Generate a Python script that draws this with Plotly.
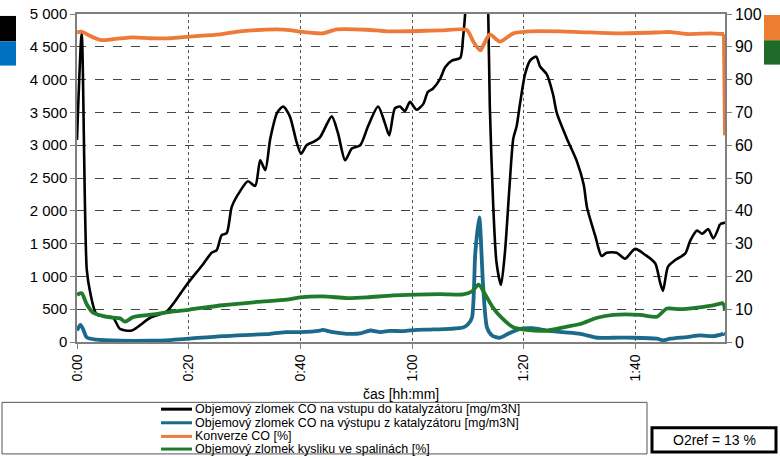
import plotly.graph_objects as go

# ---- data (time in minutes from start) ----
t_in = [0, 0.84, 1.74, 2.33, 3.53, 6.45, 7.7, 9.8, 13.1, 16.1, 19.6, 22.6, 24.1, 25.0, 25.9, 26.8, 27.7,
        29.2, 30.6, 31.9, 32.8, 33.7, 34.6, 35.8, 36.9, 38.1, 39.3, 40.1, 41.1, 42.3, 43.5, 45.6, 46.7,
        48.0, 49.2, 50.7, 52.1, 53.9, 55.1, 55.9, 56.9, 57.8, 58.7, 59.6, 60.8, 62.0, 62.8, 63.7, 65.0,
        65.9, 67.1, 68.6, 69.1, 69.7, 70.4, 72.9, 73.6, 73.9, 74.5, 75.1, 75.9, 76.6, 77.4, 78.1, 78.7,
        79.3, 80.2, 81.1, 82.2, 82.9, 84.1, 85.2, 85.9, 87.7, 89.5, 90.7, 91.3, 92.8, 93.9, 94.8, 96.6,
        98.1, 99.9, 101.7, 103.5, 104.4, 104.9, 105.8, 107.1, 108.9, 109.8, 111.0, 111.9, 113.0, 113.9,
        115.1, 116.0]
co_in = [3080, 4700, 1110, 770, 420, 370, 200, 175, 370, 470, 870, 1190, 1360, 1400, 1630, 1660, 2060,
         2300, 2450, 2380, 2770, 2620, 3100, 3490, 3590, 3440, 3050, 2870, 3000, 3050, 3120, 3440, 3190,
         2770, 2950, 3000, 3290, 3590, 3340, 3150, 3560, 3590, 3520, 3660, 3540, 3630, 3810, 3860, 4010,
         4190, 4290, 4330, 4630, 5300, 7000, 7000, 5100, 3590, 2100, 1210, 870, 1360, 2340, 3100, 3290,
         3630, 4080, 4290, 4350, 4200, 4080, 3780, 3490, 3100, 2750, 2400, 2050, 1610, 1310, 1360, 1360,
         1270, 1420, 1330, 1200, 900, 780, 1150, 1250, 1350, 1550, 1700, 1650, 1720, 1580,
         1800, 1820]

t_out = [0, 0.6, 1.07, 1.74, 3.53, 7.7, 13.1, 16.7, 19.9, 26.1, 34.6, 37.5, 39.9, 43.5, 44.0, 45.8,
         48.3, 50.7, 52.5, 54.3, 56.0, 58.4, 60.8, 63.2, 66.8, 69.1, 70.0, 70.7, 71.3, 72.0, 72.7, 73.4,
         74.3, 75.7, 77.2, 79.3, 81.6, 84.1, 87.0, 90.1, 93.1, 96.0, 99.6, 103.8, 104.9, 106.2, 109.2,
         111.6, 113.9, 115.7, 116.0]
co_out = [175, 260, 200, 70, 35, 20, 20, 30, 50, 90, 125, 150, 150, 175, 185, 150,
          125, 130, 175, 150, 170, 165, 185, 190, 200, 220, 270, 370, 1360, 1900, 860, 220,
          100, 65, 125, 200, 210, 175, 150, 125, 65, 65, 65, 50, 25, 50, 75,
          100, 90, 125, 115]

t_conv = [0, 0.84, 2.0, 4.1, 6.45, 10.0, 13.1, 16.7, 20.2, 25.6, 29.2, 35.8, 38.1, 39.9, 44.0, 46.5,
          51.9, 55.5, 65.0, 69.8, 70.9, 72.2, 73.1, 73.9, 75.7, 78.1, 81.1, 86.5, 90.1, 97.2, 104.4,
          106.2, 109.2, 113.3, 115.8, 116.0]
conv = [94.4, 94.6, 93.6, 92.1, 92.3, 92.9, 92.6, 92.6, 93.1, 93.8, 94.7, 95.3, 95.1, 94.6, 94.1, 95.3,
        95.2, 94.7, 95.0, 95.1, 91.7, 88.9, 91.7, 93.8, 91.6, 94.1, 94.7, 94.7, 94.5, 94.1, 94.4,
        94.5, 93.9, 94.1, 93.9, 63.0]

t_o2 = [0, 0.84, 1.74, 2.9, 4.7, 6.5, 7.7, 8.6, 10.1, 13.6, 16.7, 20.2, 26.1, 32.2, 37.5, 39.9, 44.0,
        48.3, 51.9, 56.6, 65.0, 69.1, 70.7, 71.9, 73.1, 74.5, 76.0, 78.1, 80.5, 84.1, 87.7, 90.1, 93.1,
        96.0, 100.8, 103.8, 105.6, 108.0, 111.0, 113.9, 115.8, 116.0]
o2 = [14.4, 14.9, 11.5, 8.9, 7.9, 7.4, 7.2, 6.2, 7.6, 8.4, 9.2, 9.9, 11.2, 12.2, 12.9, 13.6, 13.9,
      13.4, 13.6, 14.2, 14.6, 14.5, 15.4, 17.5, 14.4, 10.4, 7.4, 4.5, 3.7, 3.5, 4.7, 5.5, 7.4,
      8.3, 8.3, 7.7, 10.2, 10.0, 10.5, 11.2, 11.9, 9.5]

x_tickvals = [0, 20, 40, 60, 80, 100]
x_ticktext = ["0:00", "0:20", "0:40", "1:00", "1:20", "1:40"]

names = ["Objemový zlomek CO na vstupu do katalyzátoru [mg/m3N]",
         "Objemový zlomek CO na výstupu z katalyzátoru [mg/m3N]",
         "Konverze CO [%]",
         "Objemový zlomek kysliku ve spalinách [%]"]
colors = ["#000000", "#1B6A8C", "#EE7A3A", "#1F7A2C"]

W, H = 780, 458
ML, MR, MT, MB = 77, 55, 5, 116
PW, PH = W - ML - MR, H - MT - MB


def px(x):
    return (x - ML) / PW


def py(y):
    return (H - MB - y) / PH


SM = 0.7
fig = go.Figure()


def add_series(t, v, color, width, axis, name):
    # smoothed body, with the final (near-vertical) step drawn straight
    fig.add_trace(go.Scatter(x=t[:-1], y=v[:-1], mode="lines", name=name, yaxis=axis,
                             line=dict(color=color, width=width, shape="spline", smoothing=SM)))
    fig.add_trace(go.Scatter(x=t[-2:], y=v[-2:], mode="lines", name=name, yaxis=axis, showlegend=False,
                             line=dict(color=color, width=width)))


add_series(t_in, co_in, colors[0], 2.6, "y", names[0])
add_series(t_out, co_out, colors[1], 3.8, "y", names[1])
add_series(t_conv, conv, colors[2], 3.8, "y2", names[2])
add_series(t_o2, o2, colors[3], 3.8, "y2", names[3])

font = "Liberation Sans, Arial, sans-serif"

fig.update_layout(
    width=W, height=H,
    margin=dict(l=ML, r=MR, t=MT, b=MB),
    paper_bgcolor="white", plot_bgcolor="white",
    showlegend=False,
    separators=", ",
    font=dict(family=font, color="black"),
    xaxis=dict(range=[0, 116], tickvals=x_tickvals, ticktext=x_ticktext, tickangle=-90,
               showgrid=True, gridcolor="#555555", griddash="dot", gridwidth=1,
               showline=True, linecolor="#7F7F7F", linewidth=1.5, mirror=True,
               ticks="outside", ticklen=5, tickcolor="#7F7F7F",
               tickfont=dict(size=14, family=font), zeroline=False),
    yaxis=dict(range=[0, 5000], dtick=500, tickformat=",",
               showgrid=True, gridcolor="#444444", griddash="dash", gridwidth=1,
               showline=True, linecolor="#7F7F7F", linewidth=1.5,
               ticks="outside", ticklen=5, tickcolor="#7F7F7F", ticklabeloverflow="allow",
               tickfont=dict(size=15, family=font), zeroline=False),
    yaxis2=dict(range=[0, 100], dtick=10, overlaying="y", side="right",
                showgrid=False, showline=True, linecolor="#7F7F7F", linewidth=1.5,
                ticks="outside", ticklen=5, tickcolor="#7F7F7F", ticklabeloverflow="allow",
                tickfont=dict(size=16, family=font), zeroline=False),
)

shapes = []
annotations = []

# side colour keys
shapes.append(dict(type="rect", xref="paper", yref="paper", x0=px(0), x1=px(16), y0=py(7), y1=py(33),
                   fillcolor="#000000", line=dict(width=0)))
shapes.append(dict(type="rect", xref="paper", yref="paper", x0=px(0), x1=px(16), y0=py(33), y1=py(58),
                   fillcolor="#0070C0", line=dict(width=0)))
shapes.append(dict(type="rect", xref="paper", yref="paper", x0=px(764), x1=px(780), y0=py(6), y1=py(32),
                   fillcolor="#ED7D31", line=dict(width=0)))
shapes.append(dict(type="rect", xref="paper", yref="paper", x0=px(764), x1=px(780), y0=py(32), y1=py(57),
                   fillcolor="#1E6B2A", line=dict(width=0)))

# x axis title
annotations.append(dict(text="čas [hh:mm]", xref="paper", yref="paper", x=px(401), y=py(395),
                        showarrow=False, font=dict(size=14, family=font), xanchor="center", yanchor="middle"))

# legend frame
shapes.append(dict(type="rect", xref="paper", yref="paper", x0=px(2), x1=px(647), y0=py(404), y1=py(457),
                   line=dict(color="#555555", width=1)))
rows = [411, 425, 439, 452]
for i, name in enumerate(names):
    shapes.append(dict(type="line", xref="paper", yref="paper", x0=px(161), x1=px(192), y0=py(rows[i]),
                       y1=py(rows[i]), line=dict(color=colors[i], width=3)))
    annotations.append(dict(text=name, xref="paper", yref="paper", x=px(193), y=py(rows[i]),
                            showarrow=False, xanchor="left", yanchor="middle",
                            font=dict(size=12.5, family=font)))

# O2ref box
shapes.append(dict(type="rect", xref="paper", yref="paper", x0=px(652), x1=px(776), y0=py(430), y1=py(455),
                   line=dict(color="black", width=3)))
annotations.append(dict(text="O2ref = 13 %", xref="paper", yref="paper", x=px(714), y=py(442.5),
                        showarrow=False, xanchor="center", yanchor="middle", font=dict(size=14, family=font)))

fig.update_layout(shapes=shapes, annotations=annotations)
fig.write_html("out.html")
